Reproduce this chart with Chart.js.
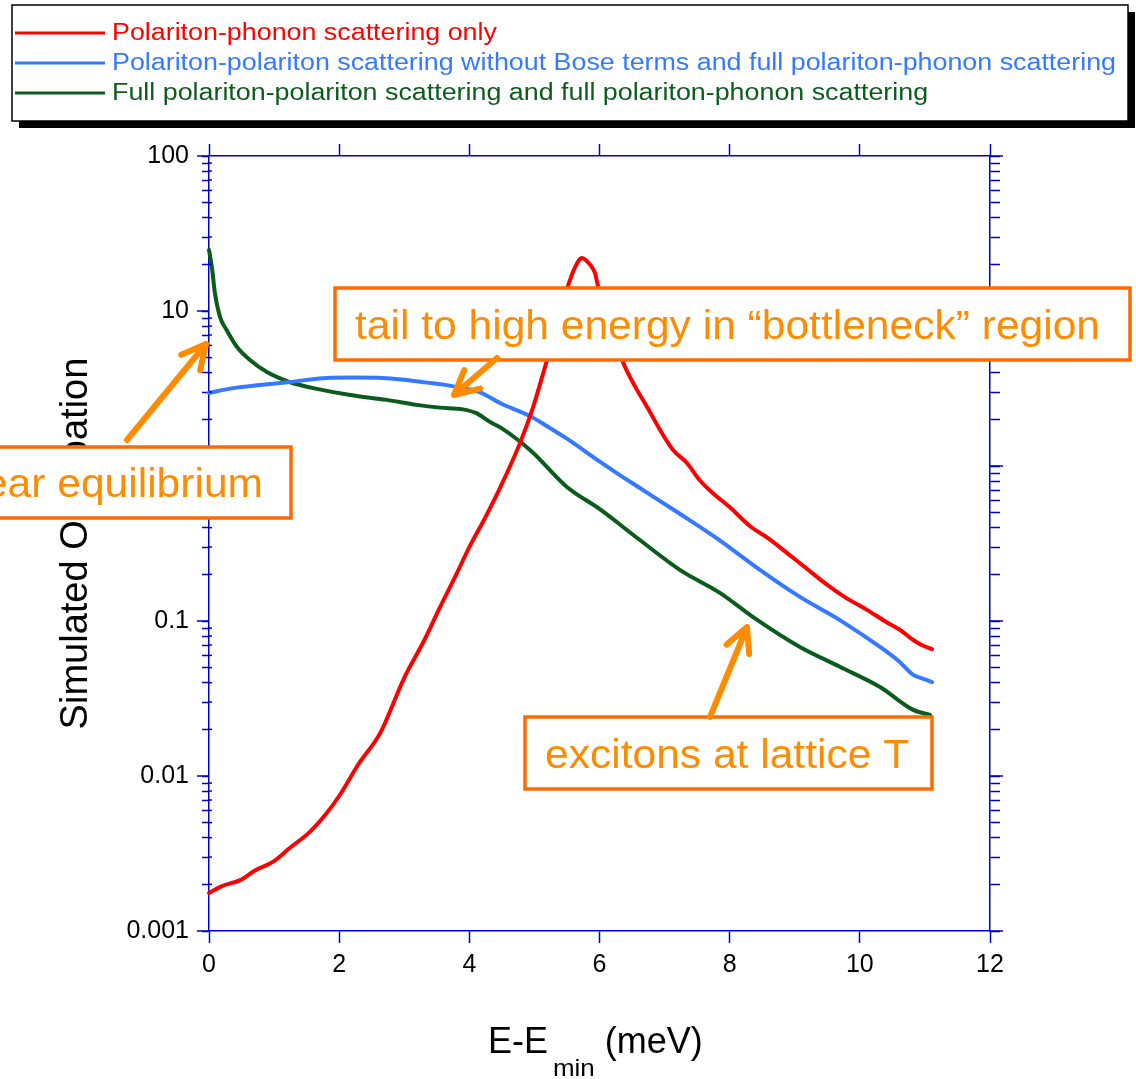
<!DOCTYPE html>
<html>
<head>
<meta charset="utf-8">
<script src="https://cdn.jsdelivr.net/npm/chart.js@4/dist/chart.umd.min.js"></script>
<style>
  html, body { margin: 0; padding: 0; background: #fff; }
  canvas { display: block; }
</style>
</head>
<body>
<canvas id="occChart" width="1136" height="1079"></canvas>
<script>
// --- data (E - Emin in meV, occupation) ---
const phononX = [0, 0.2, 0.48, 0.7, 0.98, 1.24, 1.55, 1.8, 2.01, 2.3, 2.63, 3.0, 3.3, 3.55, 3.8, 4.0, 4.25, 4.47, 4.78, 4.98, 5.13,
  5.3, 5.42, 5.52, 5.62, 5.73, 5.85, 5.93, 5.98, 6.15, 6.36, 6.55, 6.73, 6.93, 7.13, 7.34, 7.54, 7.74, 8.0, 8.31, 8.6,
  8.88, 9.2, 9.5, 9.8, 10.11, 10.4, 10.62, 10.82, 10.95, 11.11];
const phononY = [0.00176, 0.00195, 0.00213, 0.00245, 0.00279, 0.00343, 0.00436, 0.0057, 0.00754, 0.012, 0.0189, 0.043, 0.074, 0.123, 0.2, 0.3, 0.47, 0.72, 1.41, 2.4, 3.9,
  6.9, 10.7, 14.7, 19, 22, 20, 17.6, 14.3, 8.5, 4.69, 3.24, 2.41, 1.71, 1.27, 1.05, 0.81, 0.67, 0.543, 0.41, 0.34,
  0.275, 0.215, 0.171, 0.14, 0.118, 0.099, 0.0875, 0.0754, 0.07, 0.0659];

const noBoseX = [0, 0.37, 0.78, 1.24, 1.81, 2.2, 2.67, 3.0, 3.35, 3.6, 3.86, 4.16, 4.47, 4.93, 5.2, 5.5, 6.0, 6.3, 6.62, 7.24,
  7.81, 8.47, 9.08, 9.7, 10.31, 10.6, 10.82, 11.0, 11.11];
const noBoseY = [2.96, 3.18, 3.33, 3.48, 3.7, 3.72, 3.7, 3.6, 3.45, 3.35, 3.2, 3.0, 2.55, 2.1, 1.8, 1.5, 1.07, 0.88, 0.721, 0.49,
  0.34, 0.213, 0.143, 0.101, 0.068, 0.055, 0.0449, 0.042, 0.0404];

const fullX = [0, 0.05, 0.09, 0.17, 0.27, 0.43, 0.63, 0.89, 1.24, 1.4, 1.6, 2.17, 2.73, 3.19, 3.55, 3.9, 4.1, 4.32, 4.5, 4.95,
  5.5, 6.01, 6.62, 7.24, 7.85, 8.36, 9.08, 9.7, 10.31, 10.82, 11.08];
const fullY = [24.8, 18.4, 13.1, 9.14, 7.54, 5.86, 4.83, 4.04, 3.48, 3.33, 3.18, 2.87, 2.67, 2.48, 2.38, 2.32, 2.2, 1.92, 1.75, 1.25,
  0.733, 0.525, 0.333, 0.213, 0.152, 0.106, 0.068, 0.0505, 0.0375, 0.0267, 0.0248];

const seriesNames = [
  'Polariton-phonon scattering only',
  'Polariton-polariton scattering without Bose terms and full polariton-phonon scattering',
  'Full polariton-polariton scattering and full polariton-phonon scattering'
];
const seriesColors = ['#ff0000', '#3479ff', '#0b5c1c'];

const yDecades = [0.001, 0.01, 0.1, 1, 10, 100];
const yDecadeLabels = ['0.001', '0.01', '0.1', '1', '10', '100'];

// minor log ticks 1..9 in every decade, plus the top one
const yTickValues = [];
yDecades.slice(0, -1).forEach(d => { for (let m = 1; m <= 9; m++) yTickValues.push(+(d * m).toPrecision(3)); });
yTickValues.push(100);

const axisBlue = '#0000cc';
const fontFamily = '"Liberation Sans", Arial, sans-serif';
const orangeText = '#ff8c00';
const orangeBox = '#ff6a00';

function toPoints(xs, ys) { return xs.map((x, i) => ({ x: x, y: ys[i] })); }
function setLogTicks(scale) { scale.ticks = yTickValues.map(v => ({ value: v })); }
function decadeIndex(v) { return yDecades.findIndex(d => Math.abs(d - v) < d * 1e-6); }

function stretchedText(ctx, text, x, y, sx, align) {
  ctx.save();
  ctx.translate(x, y);
  ctx.scale(sx, 1);
  ctx.textAlign = align || 'left';
  ctx.fillText(text, 0, 0);
  ctx.restore();
}

function arrow(ctx, x0, y0, x1, y1) {
  const a = Math.atan2(y1 - y0, x1 - x0);
  const head = 27, spread = 0.47;
  ctx.beginPath();
  ctx.moveTo(x0, y0);
  ctx.lineTo(x1, y1);
  ctx.moveTo(x1 - head * Math.cos(a - spread), y1 - head * Math.sin(a - spread));
  ctx.lineTo(x1, y1);
  ctx.lineTo(x1 - head * Math.cos(a + spread), y1 - head * Math.sin(a + spread));
  ctx.stroke();
}

const notes = [
  { text: 'tail to high energy in \u201cbottleneck\u201d region', box: [335, 288, 795, 72], tx: 355, ty: 339, align: 'left' },
  { text: 'near equilibrium', box: [-10, 447, 301, 71], tx: 263, ty: 497, align: 'right' },
  { text: 'excitons at lattice T', box: [525, 717, 407, 72], tx: 545, ty: 768, align: 'left' }
];
const arrows = [[127, 440, 206, 344], [497, 358, 454, 395], [710, 717, 747, 627]];

const extras = {
  id: 'extras',
  afterDraw(chart) {
    const ctx = chart.ctx;
    const area = chart.chartArea;
    const yScale = chart.scales.y;

    // longer ticks at each decade, short inward stubs on the left minor ticks
    ctx.save();
    ctx.strokeStyle = axisBlue;
    ctx.lineWidth = 1.5;
    yTickValues.forEach(v => {
      const py = yScale.getPixelForValue(v);
      ctx.beginPath();
      if (decadeIndex(v) >= 0) {
        ctx.moveTo(area.left - 12, py); ctx.lineTo(area.left, py);
        ctx.moveTo(area.right, py); ctx.lineTo(area.right + 13, py);
      } else {
        ctx.moveTo(area.left, py); ctx.lineTo(area.left + 3, py);
      }
      ctx.stroke();
    });
    ctx.restore();

    // legend box with shadow
    ctx.save();
    ctx.fillStyle = '#000';
    ctx.fillRect(19, 12, 1116, 116);
    ctx.fillStyle = '#fff';
    ctx.fillRect(12, 5, 1116, 116);
    ctx.strokeStyle = '#000';
    ctx.lineWidth = 1.5;
    ctx.strokeRect(12, 5, 1116, 116);
    ctx.font = '23px ' + fontFamily;
    ctx.textBaseline = 'middle';
    const sxLegend = 1004 / ctx.measureText(chart.data.datasets[1].label).width;
    chart.data.datasets.forEach((ds, i) => {
      const y = 34 + i * 30;
      ctx.strokeStyle = ds.borderColor;
      ctx.lineWidth = 3;
      ctx.beginPath(); ctx.moveTo(15, y - 1); ctx.lineTo(105, y - 1); ctx.stroke();
      ctx.fillStyle = ds.borderColor;
      stretchedText(ctx, ds.label, 112, y, sxLegend, 'left');
    });
    ctx.restore();

    // x axis title with subscript
    ctx.save();
    ctx.fillStyle = '#000';
    ctx.textBaseline = 'alphabetic';
    ctx.font = '36px ' + fontFamily;
    let x = 488;
    ctx.fillText('E-E', x, 1053);
    x += ctx.measureText('E-E').width + 5;
    ctx.font = '24px ' + fontFamily;
    stretchedText(ctx, 'min', x, 1076, 1.08, 'left');
    x += ctx.measureText('min').width * 1.08 + 10;
    ctx.font = '36px ' + fontFamily;
    ctx.fillText('(meV)', x, 1053);
    ctx.restore();

    // annotations
    ctx.save();
    ctx.font = '40px ' + fontFamily;
    ctx.textBaseline = 'alphabetic';
    const sxNote = 745 / ctx.measureText(notes[0].text).width;
    notes.forEach(n => {
      const [bx, by, bw, bh] = n.box;
      ctx.fillStyle = '#fff';
      ctx.fillRect(bx, by, bw, bh);
      ctx.strokeStyle = orangeBox;
      ctx.lineWidth = 3.5;
      ctx.strokeRect(bx, by, bw, bh);
      ctx.fillStyle = orangeText;
      stretchedText(ctx, n.text, n.tx, n.ty, sxNote, n.align);
    });
    ctx.strokeStyle = orangeText;
    ctx.lineWidth = 6;
    ctx.lineCap = 'round';
    ctx.lineJoin = 'round';
    arrows.forEach(a => arrow(ctx, a[0], a[1], a[2], a[3]));
    ctx.restore();
  }
};

const ctx = document.getElementById('occChart').getContext('2d');
const occChart = new Chart(ctx, {
  type: 'line',
  data: {
    datasets: [
      { label: seriesNames[0], data: toPoints(phononX, phononY), borderColor: seriesColors[0] },
      { label: seriesNames[1], data: toPoints(noBoseX, noBoseY), borderColor: seriesColors[1] },
      { label: seriesNames[2], data: toPoints(fullX, fullY), borderColor: seriesColors[2] }
    ].map(ds => Object.assign(ds, { xAxisID: 'x', yAxisID: 'y', fill: false, clip: false }))
  },
  options: {
    responsive: false,
    animation: false,
    layout: { padding: 0 },
    elements: {
      point: { radius: 0 },
      line: { borderWidth: 4, cubicInterpolationMode: 'monotone', borderJoinStyle: 'round', borderCapStyle: 'round' }
    },
    plugins: {
      legend: { display: false },
      tooltip: { enabled: false }
    },
    scales: {
      x: {
        type: 'linear', position: 'bottom', min: 0, max: 12,
        ticks: { stepSize: 2, color: '#000', font: { family: fontFamily, size: 25 }, padding: 7, maxRotation: 0, autoSkip: false },
        grid: { drawOnChartArea: false, color: axisBlue, tickLength: 12, tickWidth: 1.5 },
        border: { color: axisBlue, width: 1.5 },
        afterFit(s) { s.height = 148; }
      },
      xTop: {
        type: 'linear', position: 'top', min: 0, max: 12,
        ticks: { stepSize: 2, display: false },
        grid: { drawOnChartArea: false, color: axisBlue, tickLength: 12, tickWidth: 1.5 },
        border: { color: axisBlue, width: 1.5 },
        afterFit(s) { s.height = 156; }
      },
      y: {
        type: 'logarithmic', position: 'left', min: 0.001, max: 100,
        afterBuildTicks: setLogTicks,
        ticks: {
          autoSkip: false, color: '#000', padding: 13,
          font: { family: fontFamily, size: 25 },
          callback(v) { const i = decadeIndex(v); return i >= 0 ? yDecadeLabels[i] : ''; }
        },
        grid: { drawOnChartArea: false, color: axisBlue, tickLength: 7, tickWidth: 1.5 },
        border: { color: axisBlue, width: 1.5 },
        title: {
          display: true, text: 'Simulated Occupation', color: '#000',
          font: { family: fontFamily, size: 38 }, padding: { top: 54, bottom: 0 }
        },
        afterFit(s) { s.width = 209; }
      },
      yRight: {
        type: 'logarithmic', position: 'right', min: 0.001, max: 100,
        afterBuildTicks: setLogTicks,
        ticks: { display: false, autoSkip: false },
        grid: { drawOnChartArea: false, color: axisBlue, tickLength: 10, tickWidth: 1.5 },
        border: { color: axisBlue, width: 1.5 },
        afterFit(s) { s.width = 146; }
      }
    }
  },
  plugins: [extras]
});
</script>
</body>
</html>
